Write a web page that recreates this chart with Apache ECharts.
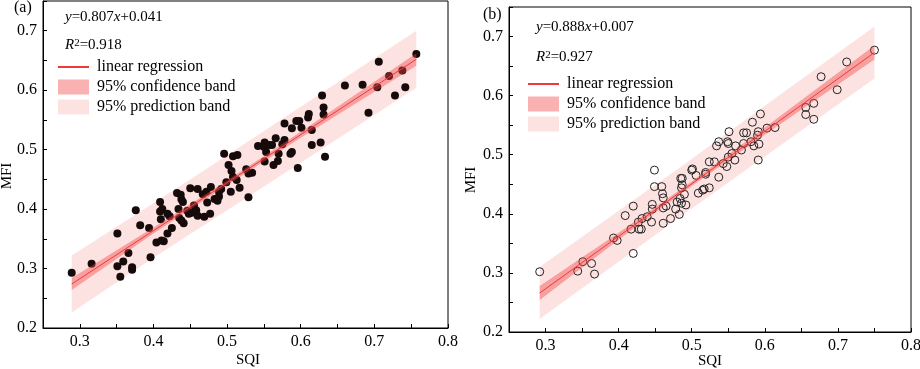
<!DOCTYPE html>
<html>
<head>
<meta charset="utf-8">
<script src="https://cdn.jsdelivr.net/npm/echarts@6/dist/echarts.min.js"></script>
<style>
  html, body { margin: 0; padding: 0; background: #fff; }
  #chart { width: 920px; height: 369px; }
</style>
</head>
<body>
<div id="chart"></div>
<script>
// panel (a) points, filled
const aX = [0.757,0.706,0.720,0.738,0.704,0.742,0.728,0.692,0.684,0.660,0.629,0.631,0.631,0.627,0.633,0.615,0.615,0.611,0.610,0.601,
  0.598,0.594,0.588,0.578,0.588,0.586,0.596,0.578,0.575,0.566,0.561,0.557,0.551,0.550,0.542,0.553,0.570,0.569,0.563,0.551,
  0.496,0.502,0.508,0.514,0.506,0.508,0.526,0.534,0.499,0.513,0.529,0.492,0.505,0.517,0.529,
  0.289,0.316,0.351,0.351,0.359,0.355,0.366,0.371,0.371,0.376,0.382,0.394,0.396,0.404,0.411,0.414,0.409,0.409,0.412,0.410,
  0.419,0.425,0.419,0.422,0.432,0.437,0.434,0.440,0.435,0.438,0.441,0.448,0.450,0.452,0.455,0.458,0.460,0.460,0.469,0.472,
  0.473,0.477,0.478,0.483,0.487,0.489,0.489,0.438,0.467,0.446]
const aY = [0.661,0.648,0.624,0.633,0.605,0.605,0.591,0.562,0.609,0.608,0.591,0.571,0.559,0.512,0.488,0.533,0.508,0.560,0.554,0.537,
  0.548,0.548,0.536,0.544,0.496,0.493,0.469,0.516,0.509,0.519,0.508,0.508,0.512,0.505,0.506,0.496,0.493,0.481,0.474,0.480,
  0.493,0.474,0.489,0.491,0.464,0.454,0.467,0.461,0.445,0.449,0.460,0.434,0.429,0.436,0.420,
  0.293,0.308,0.359,0.304,0.312,0.286,0.326,0.298,0.302,0.398,0.373,0.368,0.319,0.344,0.347,0.346,0.412,0.396,0.400,0.383,
  0.359,0.368,0.392,0.388,0.427,0.424,0.400,0.412,0.385,0.381,0.376,0.392,0.435,0.394,0.406,0.398,0.389,0.434,0.387,0.429,
  0.411,0.392,0.437,0.417,0.414,0.421,0.429,0.416,0.425,0.397]

// panel (b) points, hollow
const bX = [0.750,0.712,0.677,0.699,0.656,0.656,0.667,0.667,0.594,0.583,0.614,0.603,0.591,0.592,0.585,0.591,0.581,0.571,0.575,0.551,
  0.537,0.534,0.549,0.550,0.560,0.571,0.568,0.555,0.550,0.559,0.543,0.548,0.537,0.524,0.531,0.519,0.506,0.500,0.487,0.449,
  0.292,0.344,0.351,0.363,0.367,0.393,0.398,0.409,0.420,0.420,0.417,0.428,0.431,0.427,0.432,0.439,0.445,0.446,0.446,0.449,
  0.461,0.461,0.461,0.465,0.471,0.478,0.483,0.484,0.486,0.490,0.459,0.509,0.517,0.524,0.486,0.485,0.487,0.501,0.519,0.460,
  0.492,0.480,0.515,0.590]
const bY = [0.677,0.657,0.632,0.610,0.580,0.568,0.587,0.560,0.569,0.555,0.546,0.545,0.539,0.518,0.515,0.491,0.522,0.537,0.537,0.539,
  0.522,0.515,0.522,0.519,0.515,0.519,0.508,0.502,0.496,0.491,0.485,0.480,0.462,0.488,0.488,0.470,0.465,0.474,0.460,0.474,
  0.302,0.303,0.319,0.316,0.298,0.359,0.355,0.397,0.413,0.333,0.374,0.374,0.374,0.386,0.392,0.395,0.386,0.416,0.408,0.446,
  0.427,0.410,0.384,0.413,0.392,0.408,0.399,0.426,0.418,0.433,0.446,0.435,0.442,0.444,0.444,0.460,0.449,0.476,0.467,0.434,
  0.415,0.420,0.440,0.533]

// fitted line and bands
const aLineX = [0.289, 0.757]
const aLineY = [0.274, 0.652]
const aBandX = [0.289, 0.4, 0.49, 0.6, 0.757]
const aConfLo = [0.264, 0.359, 0.432, 0.520, 0.641]
const aConfHi = [0.284, 0.369, 0.440, 0.530, 0.662]
const aPredLo = [0.226, 0.318, 0.390, 0.478, 0.604]
const aPredHi = [0.322, 0.410, 0.482, 0.572, 0.700]

const bLineX = [0.292, 0.750]
const bLineY = [0.266, 0.673]
const bBandX = [0.292, 0.4, 0.49, 0.6, 0.750]
const bConfLo = [0.254, 0.356, 0.438, 0.534, 0.661]
const bConfHi = [0.278, 0.368, 0.446, 0.546, 0.685]
const bPredLo = [0.222, 0.319, 0.400, 0.497, 0.629]
const bPredHi = [0.310, 0.405, 0.484, 0.583, 0.717]

const FONT = '"Liberation Serif", "Times New Roman", serif'
const LINE_NAME = 'linear regression'
const CONF_NAME = '95% confidence band'
const PRED_NAME = '95% prediction band'
const predColor = '#fde2e2'
const confColor = 'rgba(240,70,70,0.42)'
const lineColor = '#ee3a3a'

const zip = (xs, ys) => xs.map((x, i) => [x, ys[i]])

function band(name, idx, xs, lo, hi, color, z) {
  return {
    name, type: 'custom', xAxisIndex: idx, yAxisIndex: idx, z,
    itemStyle: { color },
    data: [0],
    renderItem: (params, api) => {
      const pts = []
      xs.forEach((x, i) => pts.push(api.coord([x, hi[i]])))
      for (let i = xs.length - 1; i >= 0; i--) pts.push(api.coord([xs[i], lo[i]]))
      return { type: 'polygon', shape: { points: pts }, style: { fill: color } }
    }
  }
}

const tenth = v => Math.abs(v * 10 - Math.round(v * 10)) < 1e-6 ? v.toFixed(1) : ''

function xAx(idx) {
  return {
    gridIndex: idx, type: 'value', min: 0.25, max: 0.8, interval: 0.05,
    axisLine: { lineStyle: { color: '#000', width: 1 } },
    axisTick: { inside: true, length: 4, lineStyle: { color: '#000' } },
    axisLabel: { formatter: tenth, fontFamily: FONT, fontSize: 16, color: '#000', margin: 6 },
    splitLine: { show: false }
  }
}
function yAx(idx) {
  return {
    gridIndex: idx, type: 'value', min: 0.2, max: 0.75, interval: 0.05,
    axisLine: { lineStyle: { color: '#000', width: 1 } },
    axisTick: { inside: true, length: 4, lineStyle: { color: '#000' } },
    axisLabel: { formatter: tenth, fontFamily: FONT, fontSize: 16, color: '#000', margin: 6 },
    splitLine: { show: false }
  }
}
function legend(left, top) {
  return {
    orient: 'vertical', left, top, padding: 0, itemWidth: 31, itemHeight: 15, itemGap: 4,
    textStyle: { fontFamily: FONT, fontSize: 16, color: '#000', padding: [0, 0, 0, 3] },
    data: [
      { name: LINE_NAME, itemStyle: { opacity: 0 } },
      { name: CONF_NAME, icon: 'rect' },
      { name: PRED_NAME, icon: 'rect' }
    ]
  }
}
function txt(x, y, text, size) {
  return {
    type: 'text', x, y,
    style: {
      text, fontFamily: FONT, fontSize: size, fill: '#000', verticalAlign: 'middle',
      rich: {
        i: { fontStyle: 'italic', fontFamily: FONT, fontSize: size, fill: '#000' },
        sup: { fontFamily: FONT, fontSize: 11, fill: '#000', verticalAlign: 'top' }
      }
    }
  }
}
// axis titles
function ctxt(x, y, text, rot) {
  return {
    type: 'text', x, y, rotation: rot,
    style: { text, fontFamily: FONT, fontSize: 15, fill: '#000', align: 'center', verticalAlign: 'middle' }
  }
}

const chart = echarts.init(document.getElementById('chart'))
chart.setOption({
  animation: false,
  grid: [
    { left: 43, top: 1, right: 472, bottom: 41, outerBoundsMode: 'none', show: true, borderColor: '#000', borderWidth: 1 },
    { left: 509, top: 7, right: 9, bottom: 37, outerBoundsMode: 'none', show: true, borderColor: '#000', borderWidth: 1 }
  ],
  xAxis: [xAx(0), xAx(1)],
  yAxis: [yAx(0), yAx(1)],
  legend: [legend(57, 59), legend(527, 76)],
  graphic: [
    txt(14, 8, '(a)', 16),
    txt(65, 17, '{i|y}=0.807{i|x}+0.041', 15),
    txt(65, 45, '{i|R}{sup|2}=0.918', 15),
    txt(483, 15, '(b)', 16),
    txt(536, 27, '{i|y}=0.888{i|x}+0.007', 15),
    txt(536, 57, '{i|R}{sup|2}=0.927', 15),
    ctxt(7, 176, 'MFI', Math.PI / 2),
    ctxt(471, 180, 'MFI', Math.PI / 2),
    ctxt(248, 360, 'SQI', 0),
    ctxt(710, 361, 'SQI', 0)
  ],
  series: [
    band(PRED_NAME, 0, aBandX, aPredLo, aPredHi, predColor, 1),
    {
      type: 'scatter', xAxisIndex: 0, yAxisIndex: 0, z: 2,
      symbol: 'circle', symbolSize: 8,
      itemStyle: { color: '#160a0a', opacity: 1 },
      data: zip(aX, aY)
    },
    band(CONF_NAME, 0, aBandX, aConfLo, aConfHi, confColor, 3),
    {
      name: LINE_NAME, type: 'line', xAxisIndex: 0, yAxisIndex: 0, z: 4,
      symbol: 'none', lineStyle: { color: lineColor, width: 1 }, itemStyle: { color: lineColor },
      data: zip(aLineX, aLineY)
    },

    band(PRED_NAME, 1, bBandX, bPredLo, bPredHi, predColor, 1),
    {
      type: 'scatter', xAxisIndex: 1, yAxisIndex: 1, z: 2,
      symbol: 'circle', symbolSize: 8,
      itemStyle: { color: 'rgba(0,0,0,0)', borderColor: '#222', borderWidth: 1, opacity: 1 },
      data: zip(bX, bY)
    },
    band(CONF_NAME, 1, bBandX, bConfLo, bConfHi, confColor, 3),
    {
      name: LINE_NAME, type: 'line', xAxisIndex: 1, yAxisIndex: 1, z: 4,
      symbol: 'none', lineStyle: { color: lineColor, width: 1 }, itemStyle: { color: lineColor },
      data: zip(bLineX, bLineY)
    }
  ]
})
</script>
</body>
</html>
